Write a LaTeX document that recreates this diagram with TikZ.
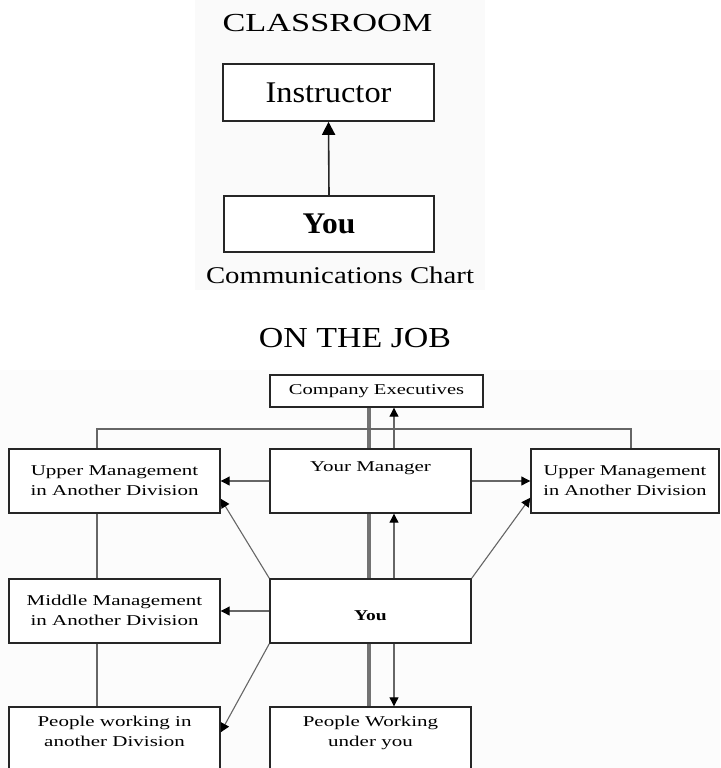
\documentclass[tikz,border=0pt]{standalone}
\usepackage{fontspec}
\setmainfont{Liberation Serif}
\usepackage{graphicx}
\usetikzlibrary{arrows.meta,calc}
\newcommand{\hsc}[2]{\scalebox{#1}[1]{#2}}
\newcommand{\twol}[2]{\begin{tabular}{@{}c@{}}#1\\#2\end{tabular}}
\begin{document}
\begin{tikzpicture}[x=1pt,y=-1pt,
  box/.style={draw=black!85, line width=1.4pt, fill=white, rectangle, inner sep=0pt},
  bigbox/.style={box, line width=1.6pt},
  small/.style={font=\fontsize{15}{20}\selectfont},
  conn/.style={draw=black!60, line width=1.1pt},
  arr/.style={conn, -{Triangle[length=9pt,width=9pt,color=black]}},
  bigarr/.style={draw=black!85, line width=1.6pt, -{Triangle[length=13pt,width=13pt,color=black]}},
  thickl/.style={draw=black!55, line width=4pt},
  head/.style={inner sep=0pt}
]
\useasboundingbox (0,0) rectangle (720,768);
\clip (0,0) rectangle (720,768);
\fill[black!2] (195,0) rectangle (485,290);
\fill[black!1] (0,370) rectangle (720,768);

% ---------- classroom ----------
\node[head, font=\fontsize{26}{30}\selectfont] (t1) at (327.5,23) {\hsc{1.32}{CLASSROOM}};
\node[bigbox, minimum width=211pt, minimum height=57pt,
      font=\fontsize{30}{34}\selectfont] (instr) at (328.5,92.5) {\hsc{1.08}{Instructor}};
\node[bigbox, minimum width=210pt, minimum height=56pt,
      font=\fontsize{30}{34}\selectfont\bfseries] (youc) at (329,224) {\hsc{1.05}{You}};
\node[head, font=\fontsize{24}{28}\selectfont, anchor=base] (cc) at (340,283) {\hsc{1.2}{Communications Chart}};
\draw[bigarr] (youc.north) -- (instr.south);

% ---------- on the job ----------
\node[head, font=\fontsize{29}{33}\selectfont] (t2) at (355,338) {\hsc{1.17}{ON THE JOB}};

\coordinate (tx) at (369,0);
\coordinate (ax) at (394,0);
\coordinate (lx) at (97,429);
\coordinate (rx) at (631,429);

\node[box, small, minimum width=213pt, minimum height=32pt] (exec) at (376.5,391) {\hsc{1.37}{Company Executives}};
\node[box, small, minimum width=211pt, minimum height=64pt] (upL) at (114.5,481) {\hsc{1.4}{\twol{Upper Management}{in Another Division}}};
\node[box, small, minimum width=201pt, minimum height=64pt,
      label={[small, anchor=north, inner sep=0pt, yshift=-13pt]north:\hsc{1.4}{Your Manager}}] (mgr) at (370.5,481) {};
\node[box, small, minimum width=188pt, minimum height=64pt] (upR) at (625,481) {\hsc{1.36}{\twol{Upper Management}{in Another Division}}};
\node[box, small, minimum width=211pt, minimum height=64pt] (midL) at (114.5,611) {\hsc{1.4}{\twol{Middle Management}{in Another Division}}};
\node[box, small, minimum width=201pt, minimum height=64pt,
      label={[font=\fontsize{15}{20}\selectfont\bfseries, inner sep=0pt, yshift=-5pt]center:\hsc{1.3}{You}}] (you) at (370.5,611) {};
\node[box, small, minimum width=211pt, minimum height=90pt,
      label={[small, anchor=north, inner sep=0pt, yshift=-6pt]north:\hsc{1.4}{\twol{People working in}{another Division}}}] (pplL) at (114.5,752) {};
\node[box, small, minimum width=201pt, minimum height=90pt,
      label={[small, anchor=north, inner sep=0pt, yshift=-6pt]north:\hsc{1.4}{\twol{People Working}{under you}}}] (pplU) at (370.5,752) {};

% thick line
\draw[thickl] (exec.south -| tx) -- (mgr.north -| tx);
\draw[thickl] (mgr.south -| tx) -- (you.north -| tx);
\draw[thickl] (you.south -| tx) -- (pplU.north -| tx);

% thin vertical arrows
\draw[arr] (mgr.north -| ax) -- (exec.south -| ax);
\draw[arr] (you.north -| ax) -- (mgr.south -| ax);
\draw[arr] (you.south -| ax) -- (pplU.north -| ax);

% top connector
\draw[conn] (upL.north -| lx) -- (lx) -- (rx) -- (upR.north -| rx);
\draw[conn] (upL.south -| lx) -- (midL.north -| lx);
\draw[conn] (midL.south -| lx) -- (pplL.north -| lx);

% horizontal arrows
\draw[arr] (mgr.west) -- (upL.east);
\draw[arr] (mgr.east) -- (upR.west);
\draw[arr] (you.west) -- (midL.east);

% diagonal arrows
\draw[arr] (you.north west) -- ($(upL.south east)+(0,-15)$);
\draw[arr] (you.north east) -- ($(upR.south west)+(0,-16)$);
\draw[arr] (you.south west) -- ($(pplL.north east)+(0,26)$);
\end{tikzpicture}
\end{document}
